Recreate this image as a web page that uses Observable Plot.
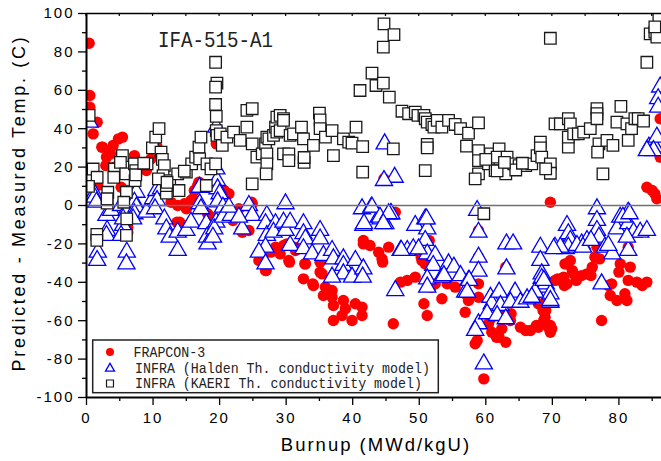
<!DOCTYPE html>
<html><head><meta charset="utf-8">
<script src="https://cdn.jsdelivr.net/npm/d3@7"></script>
<script src="https://cdn.jsdelivr.net/npm/@observablehq/plot@0.6"></script>
<style>
body{margin:0;background:#fff}
#chart svg{display:block}
g[aria-label="y-axis tick label"] text, g[aria-label="x-axis tick label"] text{letter-spacing:2px}
</style>
</head><body><div id="chart"></div>
<script>
// ---- data: [burnup (MWd/kgU), predicted - measured temperature (C)] ----
const frapcon = [[0.4,84.5],[0.5,57.3],[0.5,51.2],[1.6,43.4],[1.0,37.3],[2.3,30.4],[3.0,25.2],[2.9,20.8],[3.5,27.8],[4.0,31.3],[4.8,34.7],[5.4,35.6],[3.6,26.9],[4.2,20],[7.2,26],[7.3,22.5],[9.0,19.1],[9.7,24.3],[10.6,30.4],[5.2,9.5],[6.1,7.8],[1.7,10.4],[5.7,-7.8],[6.2,-11.3],[6.2,-14],[12.7,1.7],[13.7,0],[14.7,0.9],[15.7,2.6],[14.0,-8.7],[16.7,10.4],[16.2,7.8],[16.0,3.5],[20.2,5.2],[20.7,7.8],[20.7,6.1],[18.7,-6.1],[18.2,-9.5],[18.2,-4.3],[19.5,47.8],[19.5,32.1],[19.2,20],[20.7,-5.2],[22.0,-7.8],[21.4,6.1],[22.3,-3.5],[22.9,-1.7],[23.4,-13.9],[24.9,0.9],[24.8,1.7],[24.4,-13],[25.9,-28.6],[26.9,-33.9],[27.7,-24.3],[28.4,-21.7],[29.1,-25.2],[30.4,-28.6],[30.1,-20],[31.4,-23.4],[29.6,-20.8],[32.9,-30.4],[32.6,-38.2],[34.0,-40.8],[35.1,-29.5],[35.1,-34.7],[35.9,-42.5],[36.9,-44.3],[35.6,-46.9],[36.9,-47.8],[37.1,-52.1],[37.1,-59.9],[38.6,-49.5],[38.9,-53.8],[38.4,-57.3],[39.9,-59.9],[40.4,-51.2],[41.4,-53],[41.4,-57.3],[41.6,-20],[41.6,-18.2],[42.6,-20.8],[43.9,-24.3],[44.4,-27.8],[44.5,-29.5],[45.4,-21.7],[46.1,-61.6],[44.7,13.9],[46.4,-3.5],[47.2,-39.9],[48.2,-39],[49.4,-37.3],[50.4,-28.6],[50.3,-26.9],[50.9,-30.4],[51.5,-18.2],[50.7,-51.2],[51.2,-57.3],[51.8,-42.5],[52.4,-40.8],[53.4,-48.6],[54.2,-40.8],[55.4,-42.5],[56.9,-46],[56.9,-55.6],[57.4,-49.5],[58.9,-40.8],[58.9,-47.8],[58.9,-13],[58.9,-26.9],[58.7,-70.3],[58.4,-72],[59.7,-90.3],[60.4,-61.6],[60.9,-66],[62.0,-68.6],[63.0,-71.2],[62.4,-64.2],[62.2,-57.3],[63.7,-59.9],[63.8,-56.4],[65.2,-63.4],[66.0,-65.1],[66.7,-65.1],[67.6,-62.5],[67.9,-63.4],[68.7,-59.9],[69.0,-54.7],[69.2,-49.5],[69.4,-63.4],[69.7,-66],[69.9,-64.2],[67.7,-46],[67.9,-51.2],[68.9,-58.2],[63.0,-32.1],[69.7,1.7],[70.4,-39],[71.2,-39],[71.7,-37.3],[72.2,-40.8],[72.2,-30.4],[72.7,-28.6],[73.0,-33.9],[73.6,-39],[74.4,-36.5],[75.2,-35.6],[75.8,-36.5],[76.0,-32.1],[76.4,-26.9],[76.7,-21.7],[77.1,-27.8],[77.4,-59.9],[78.4,-41.7],[78.7,-46.9],[79.7,-49.5],[78.9,-40.8],[80.2,-30.4],[80.0,-34.7],[81.7,-32.1],[81.4,-39],[81.2,-49.5],[80.9,-46],[82.7,-39.9],[83.5,-41.7],[84.2,-39.9],[81.4,-21.7],[84.2,9.5],[85.0,7.8],[85.4,6.1],[85.7,3.5],[86.2,45.2],[86.2,25.2],[32.8,-30.4],[34.1,-41.7],[27.0,-33.9],[30.5,-29.5],[31.2,-21.7],[35.4,-35.6],[23.2,-13],[13.6,-8.7],[15.0,-1.7],[16.9,12.2],[18.8,-7.8],[20.1,6.9],[9.0,18.2],[2.4,30.4],[71.9,-30.4],[61.6,-68.6],[60.7,-59],[70.8,-38.2],[71.8,-41.7],[73.2,-35.6],[69.7,-62.5],[68.6,-54.7]];

const halden = [[0.45,43.4],[0.7,7.8],[1.2,6.1],[1.2,4.3],[1.5,1.7],[3.0,-5.2],[3.1,-13],[3.0,-15.6],[1.7,-24.3],[1.6,-28.6],[3.7,-2.6],[5.2,0],[6.0,-2.6],[5.5,-10.4],[5.5,-7],[5.2,-15.6],[6.05,-24.3],[6.0,-30.4],[7.5,6.9],[7.2,1.7],[7.5,-0.9],[7.2,-4.3],[7.0,-7],[9.0,-3.5],[10.0,3.5],[10.5,7.8],[11.2,8.7],[10.6,2.6],[10.3,-1.7],[11.7,-7],[12.0,-12.2],[12.5,-16.5],[13.7,-23.4],[13.7,-13.9],[15.0,-13],[15.7,-8.7],[17.0,0.9],[17.2,-1.7],[17.0,9.5],[18.0,-9.5],[18.1,-16.5],[18.2,-20],[19.6,13],[19.7,8.7],[20.0,6.1],[19.5,19.1],[19.7,1.9],[19.5,-8.7],[19.2,-12.2],[19.0,-16.5],[20.5,-0.9],[20.5,-6.1],[21.7,-5.2],[19.5,40.8],[21.4,-0.9],[24.4,0],[24.9,-5.2],[23.4,-12.2],[22.9,-6.1],[27.1,-5.2],[26.9,-9.5],[27.1,-15.6],[26.9,-21.7],[25.9,-24.3],[26.9,-30.4],[29.9,0.9],[28.4,-9.5],[28.1,-13.9],[29.6,-8.7],[29.9,-13],[30.6,-8.7],[30.6,-20.8],[32.6,-9.5],[32.6,-14.7],[32.9,-17.4],[32.6,-22.5],[35.1,-13],[35.1,-17.4],[33.9,-25.2],[35.6,-26],[36.9,-23.4],[37.1,-27.8],[38.6,-27.8],[38.6,-31.2],[38.6,-35.6],[36.9,-37.3],[39.9,-37.3],[40.4,-28.6],[41.6,-33],[41.5,-37.3],[41.4,-1.7],[41.6,-10.4],[42.8,-0.9],[43.9,-6.1],[44.9,-9.5],[45.7,-4.3],[46.3,14.7],[44.7,13],[44.8,32.1],[46.4,-44.3],[47.2,-23.4],[48.2,-23.4],[49.1,-22.5],[49.4,-10.4],[50.9,-7],[51.2,-12.2],[50.9,-18.2],[51.2,-25.2],[52.4,-26],[52.1,-31.2],[51.2,-38.2],[51.2,-42.5],[53.4,-37.3],[54.4,-30.4],[55.2,-32.1],[56.2,-36.5],[57.4,-39],[56.9,-45.1],[58.7,-2.6],[58.9,-13.9],[58.9,-26.9],[58.9,-34.2],[63.1,-20],[63.1,-33],[58.9,-61.6],[58.4,-65.1],[59.7,-82.5],[60.7,-47.8],[60.9,-51.2],[60.2,-56.4],[62.0,-45.1],[62.2,-52.1],[61.7,-57.3],[63.0,-59],[64.4,-45.1],[63.7,-50.4],[65.2,-50.4],[66.2,-48.6],[68.2,-21.7],[68.2,-28.6],[68.4,-35.6],[68.4,-38],[68.2,-42.5],[69.0,-40.8],[69.7,-46],[69.7,-50.4],[67.4,-45.1],[66.9,-47.8],[70.4,-21.7],[71.4,-21.7],[72.2,-10.4],[72.4,-14.7],[72.0,-22.5],[76.7,-1.7],[76.7,-7.8],[76.7,-13],[77.0,-16.5],[72.7,-18.2],[72.4,-21.7],[74.4,-20],[75.2,-18.2],[73.7,-20.8],[77.9,-21.7],[79.0,-25.2],[77.4,-40.8],[80.2,-6.1],[81.4,-3.5],[79.7,-12.2],[81.4,-9.5],[81.4,-23.4],[82.2,-13.9],[83.2,-13.9],[84.2,-13],[81.2,-16.5],[84.5,30.4],[85.4,30.4],[85.7,35.6],[86.2,61.7],[85.9,55.6],[85.9,51.2],[85.2,28.6],[84.2,28.6],[47.3,-23.4],[49.9,-22.6],[51.1,-7],[53.7,-36.5],[57.5,-39],[57.2,-45.1],[44.2,-7],[45.8,-4.3],[42.9,-0.9],[64.1,-20],[74.6,-21.7],[75.8,-18.2],[78.4,-20.8],[80.6,-6.1],[81.6,-4.3],[44.1,-6.1],[45.4,-4.3],[44.6,-9.5],[41.7,-9.5],[71.2,-21.7],[70.2,-22.5],[69.7,-49.5],[68.7,-39]];

const kaeri = [[0.4,46.9],[1.0,19],[1.6,14.7],[0.3,10],[1.55,-15],[1.55,-18.2],[3.2,6.9],[3.1,1.2],[3.1,3.5],[4.2,19],[4.1,14.7],[5.4,26],[5.1,22.5],[5.9,16.5],[6.0,6.9],[5.6,1.7],[6.05,-7],[6.0,-15.6],[7.2,21.7],[7.4,18.2],[7.3,13],[7.4,16],[9.1,21.7],[9.9,30],[10.4,35.6],[10.9,40],[11.2,27.8],[11.4,24],[11.7,20.8],[12.0,6.4],[12.0,10.4],[11.5,15.6],[12.5,13],[13.7,16.5],[13.9,7.8],[15.0,17.4],[15.8,21.7],[16.4,25.2],[16.9,30.4],[17.2,35.6],[17.0,24.3],[18.1,21.7],[18.0,10.4],[18.7,19.1],[19.4,74.6],[19.6,63.7],[19.4,61.7],[19.4,52.6],[19.5,46.4],[19.5,39],[19.6,36.5],[20.4,31.3],[19.4,21.7],[20.1,37.3],[21.1,35.6],[22.1,38.2],[23.1,33.9],[24.1,40.8],[24.9,32.1],[24.1,49.5],[24.9,50.4],[24.9,11.3],[25.6,25.2],[26.4,26.9],[26.9,32.1],[27.1,26.9],[27.1,21.7],[27.0,16.5],[27.1,35.6],[27.4,34.7],[28.1,36.5],[28.4,40.8],[28.6,38.2],[29.1,39],[28.6,46],[29.1,46.9],[29.6,45.2],[29.6,44.3],[29.6,26.9],[30.4,26.9],[30.4,23.4],[30.6,36.5],[31.1,37.3],[32.3,40.8],[32.6,34.7],[32.7,22.5],[32.7,25],[34.1,31.3],[35.0,48.1],[35.1,44.6],[35.1,40],[35.9,35.6],[36.9,39],[37.1,26],[38.6,34.7],[39.4,33],[39.9,32.5],[40.5,40.8],[41.5,30.7],[41.5,17.4],[41.1,59.9],[42.9,68.9],[43.5,62.5],[44.6,63.7],[45.5,56.4],[44.7,94.6],[46.2,89],[44.6,82.5],[46.1,29.5],[47.4,49.1],[48.4,47.8],[49.4,48.6],[49.8,46.9],[50.7,46.9],[50.9,45.2],[51.2,43.4],[51.9,42.2],[52.2,40.8],[52.7,44.3],[53.4,40.8],[54.4,44.3],[55.4,42.2],[56.2,40],[57.4,37.7],[58.9,43],[51.2,31.8],[51.2,30],[50.9,18.2],[57.1,30.9],[58.9,28.6],[58.9,23.4],[58.9,16.5],[58.4,13.9],[59.7,-4.3],[60.7,26.9],[60.4,21.7],[62.0,29.5],[61.7,25.2],[63.2,25.2],[63.0,20],[61.4,18.2],[63.0,16.5],[64.2,21.7],[65.0,20.8],[66.0,20.8],[66.9,21.7],[67.7,26],[68.2,33],[68.2,30],[68.4,25.2],[69.7,21.7],[69.7,16.8],[69.0,19.1],[69.7,87.1],[70.4,42.5],[71.2,42.5],[72.4,45.2],[72.7,42.5],[72.4,30.4],[72.4,35.6],[73.2,37.3],[73.9,37.3],[74.7,38.2],[75.7,40],[76.7,50.4],[76.7,47.8],[76.7,45.2],[77.0,32.1],[76.8,27.8],[77.6,16.5],[78.2,33.9],[79.1,31.3],[79.7,43.4],[80.3,51.6],[81.2,42.5],[81.4,33.9],[81.9,40],[82.4,45.2],[82.9,45.2],[83.7,44],[84.2,74.6],[84.7,89.4],[85.4,90.3],[85.7,87.7],[86.0,98],[85.4,93],[8.6,22],[14.7,17.9],[10.8,13.9],[12.1,12.1],[61.7,18],[64.5,18.5],[62.8,22.5],[65.5,22],[60.0,24]];

const seriesNames = ["FRAPCON-3", "INFRA (Halden Th. conductivity model)", "INFRA (KAERI Th. conductivity model)"];
const xMajorTicks = [0, 10, 20, 30, 40, 50, 60, 70, 80];
const xMinorTicks = [5, 15, 25, 35, 45, 55, 65, 75, 85];
const yMajorTicks = [-100, -80, -60, -40, -20, 0, 20, 40, 60, 80, 100];
const yMinorTicks = [-90, -70, -50, -30, -10, 10, 30, 50, 70, 90];
const chartTitle = "IFA-515-A1";
const xLabel = "Burnup (MWd/kgU)";
const yLabel = "Predicted - Measured Temp. (C)";

const sans = "'Liberation Sans', Arial, sans-serif";
const mono = "'Liberation Mono', 'DejaVu Sans Mono', monospace";

const plot = Plot.plot({
  width: 661, height: 461,
  marginLeft: 86, marginRight: 0, marginTop: 13, marginBottom: 64,
  x: {domain: [0, 86.4]},
  y: {domain: [-100, 100]},
  style: {fontFamily: sans, fontSize: "15px", color: "#000", background: "#fff"},
  marks: [
    Plot.dot(frapcon, {x: d => d[0], y: d => d[1], r: 5.7, fill: "#ff0000", clip: true}),
    Plot.dot(halden, {x: d => d[0], y: d => d[1], symbol: "triangle", r: 6.4, stroke: "#0000ff", fill: "#fff", strokeWidth: 1.3, clip: true}),
    Plot.dot(kaeri, {x: d => d[0], y: d => d[1], symbol: "square", r: 6.5, stroke: "#1a1a1a", fill: "#fff", strokeWidth: 1.3, clip: true}),
    Plot.ruleY([0], {stroke: "#707070", strokeWidth: 1.4}),
    Plot.axisY({ticks: yMajorTicks, tickSize: 8, tickPadding: 4, tickFormat: d => String(d), label: null, fontSize: 15, strokeWidth: 1.3}),
    Plot.axisY({ticks: yMinorTicks, tickSize: 4, tickFormat: () => "", label: null, strokeWidth: 1.3}),
    Plot.axisX({ticks: xMajorTicks, tickSize: 8, tickPadding: 7, tickFormat: d => String(d), label: null, fontSize: 15, strokeWidth: 1.3}),
    Plot.axisX({ticks: xMinorTicks, tickSize: 4, tickFormat: () => "", label: null, strokeWidth: 1.3}),
    Plot.ruleX([0], {stroke: "#000", strokeWidth: 2}),
    Plot.ruleY([-100], {stroke: "#000", strokeWidth: 2}),
    Plot.ruleY([100], {stroke: "#000", strokeWidth: 1.5})
  ]
});

document.getElementById("chart").appendChild(plot);

const svg = d3.select(plot);
const xs = plot.scale("x"), ys = plot.scale("y");

// inward ticks along the top frame
svg.append("g").selectAll("line")
  .data(d3.merge([xMajorTicks, xMinorTicks]))
  .join("line")
  .attr("x1", d => xs.apply(d)).attr("x2", d => xs.apply(d))
  .attr("y1", ys.apply(100)).attr("y2", ys.apply(100) + 3)
  .attr("stroke", "#000").attr("stroke-width", 1.2);

// title inside the plot
svg.append("text")
  .attr("x", 158).attr("y", 46.7)
  .attr("text-anchor", "start")
  .attr("font-family", mono).attr("font-size", 22)
  .attr("textLength", 115).attr("lengthAdjust", "spacingAndGlyphs")
  .attr("fill", "#222")
  .text(chartTitle);

// axis titles
svg.append("text")
  .attr("x", 376).attr("y", 451)
  .attr("text-anchor", "middle")
  .attr("font-family", sans).attr("font-size", 18.5)
  .attr("letter-spacing", "2px")
  .attr("fill", "#000")
  .text(xLabel);

svg.append("text")
  .attr("transform", "translate(24.6,203) rotate(-90)")
  .attr("text-anchor", "middle")
  .attr("font-family", sans).attr("font-size", 18)
  .attr("letter-spacing", "2.7px")
  .attr("fill", "#000")
  .text(yLabel);

// legend box
const lg = svg.append("g").attr("text-anchor", "start");
lg.append("rect")
  .attr("x", 92.7).attr("y", 340).attr("width", 345.6).attr("height", 52.7)
  .attr("fill", "#fff").attr("stroke", "#222").attr("stroke-width", 1.5);
const rows = [356.7, 372.7, 388.3];
const symY = [352, 368.5, 383.5];
lg.append("circle").attr("cx", 110).attr("cy", symY[0]).attr("r", 4).attr("fill", "#ff0000");
lg.append("path").attr("transform", `translate(110,${symY[1]})`)
  .attr("d", d3.symbol(d3.symbolTriangle2, 58)()).attr("fill", "#fff").attr("stroke", "#0000ff").attr("stroke-width", 1.3);
lg.append("path").attr("transform", `translate(110,${symY[2]})`)
  .attr("d", d3.symbol(d3.symbolSquare2, 62)()).attr("fill", "#fff").attr("stroke", "#1a1a1a").attr("stroke-width", 1.2);
seriesNames.forEach((name, i) => {
  lg.append("text")
    .attr("x", i === 0 ? 133.5 : 135).attr("y", rows[i])
    .attr("text-anchor", "start")
    .attr("font-family", mono).attr("font-size", 14.5)
    .attr("textLength", name.length * 7.97).attr("lengthAdjust", "spacingAndGlyphs")
    .attr("fill", "#222")
    .text(name);
});
</script>
</body></html>
